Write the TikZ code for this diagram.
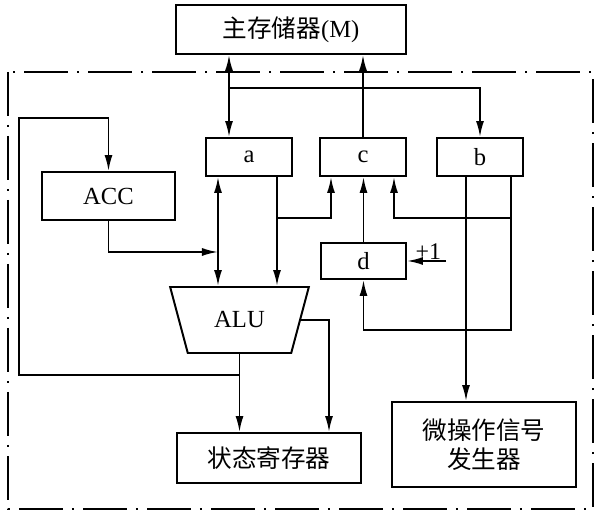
\documentclass[tikz,border=0pt]{standalone}
\usepackage{fontspec}
\setmainfont{Liberation Serif}
\newfontfamily\cjk{Noto Sans CJK SC}
\usetikzlibrary{arrows.meta,shapes.geometric}

\begin{document}
\begin{tikzpicture}[x=0.25mm, y=-0.25mm, line width=1.3pt,
	box/.style={draw, rectangle, inner sep=0pt, line width=1.4pt, font=\fontsize{17.5}{21}\selectfont},
	arr/.style={-{Latex[length=4mm, width=2mm]}},
	darr/.style={{Latex[length=4mm, width=2mm]}-{Latex[length=4mm, width=2mm]}},
	frame/.style={line width=1pt, dash pattern=on 11mm off 2.2mm on 0.6mm off 2.2mm}]
				\useasboundingbox (0, 0) rectangle (602, 521);
				\draw[frame] (8, 72) rectangle (593, 509);
				% registers and units
				\node[box, minimum width=57.5mm, minimum height=12.25mm] (mem)at(291, 29.5) {{\cjk 主存储器}(M)};
				\node[box, minimum width=21.5mm, minimum height=9.5mm] (a)at(249, 157) {a};
				\node[box, minimum width=21.5mm, minimum height=9.5mm] (c)at(363, 157) {c};
				\node[box, minimum width=21.5mm, minimum height=9.5mm] (b)at(480, 157) {b};
				\node[box, minimum width=33.25mm, minimum height=12mm] (acc)at(108.5, 196) {ACC};
				\node[box, minimum width=21.25mm, minimum height=9mm] (d)at(363.5, 261) {d};
				\node[draw, trapezium, shape border rotate=180, trapezium angle=62.4, trapezium stretches=true, minimum width=34.75mm, minimum height=16.5mm, inner sep=0pt, line width=1.4pt, font=\fontsize{17.5}{21}\selectfont] (alu)at(239.5, 320) {ALU};
				\node[box, minimum width=46mm, minimum height=12.5mm] (st)at(269, 458) {\cjk 状态寄存器};
				\node[box, minimum width=46mm, minimum height=21.25mm, align=center] (gen)at(484, 444.5) {\cjk 微操作信号\\\cjk 发生器};
				% columns and junctions
				\coordinate (xm)at(229, 0);
				\coordinate (jm)at(229, 88);
				\coordinate (xa1)at(218, 0);
				\coordinate (xa2)at(277, 0);
				\coordinate (jacc)at(218, 252);
				\coordinate (jac)at(277, 218);
				\coordinate (xc1)at(331, 0);
				\coordinate (xc3)at(394, 0);
				\coordinate (xb2)at(511, 0);
				\coordinate (xb3)at(466, 0);
				\coordinate (jbc)at(511, 218);
				\coordinate (jd)at(363.5, 330);
				\coordinate (inc)at(446, 261);
				\coordinate (xs2)at(329, 0);
				\coordinate (fb)at(19, 375);
				\coordinate (ft)at(19, 118);
				% connections
				\draw[darr] (mem.south -| xm) -- (a.north -| xm);
				\draw[arr] (jm) -| (b.north);
				\draw[arr] (c.north) -- (c.north |- mem.south);
				\draw[darr] (a.south -| xa1) -- (alu.north -| xa1);
				\draw[arr] (a.south -| xa2) -- (alu.north -| xa2);
				\draw[arr] (acc.south) |- (jacc);
				\draw[arr] (jac) -| (c.south -| xc1);
				\draw[arr] (d.north) -- (d.north |- c.south);
				\draw[arr] (b.south -| xb2) |- (jd) -- (d.south);
				\draw[arr] (jbc) -| (c.south -| xc3);
				\draw[arr] (b.south -| xb3) -- (gen.north -| xb3);
				\draw[arr] (inc) -- node[above, pos=0.45, inner sep=0.5pt, font=\fontsize{17}{20}\selectfont] {+1} (d.east);
				\draw[arr] (alu.south) -- (alu.south |- st.north);
				\draw[arr] (alu.east) -| (st.north -| xs2);
				\draw[arr] (alu.south |- fb) -- (fb) |- (acc.north |- ft) -- (acc.north);
			\end{tikzpicture}
\end{document}
